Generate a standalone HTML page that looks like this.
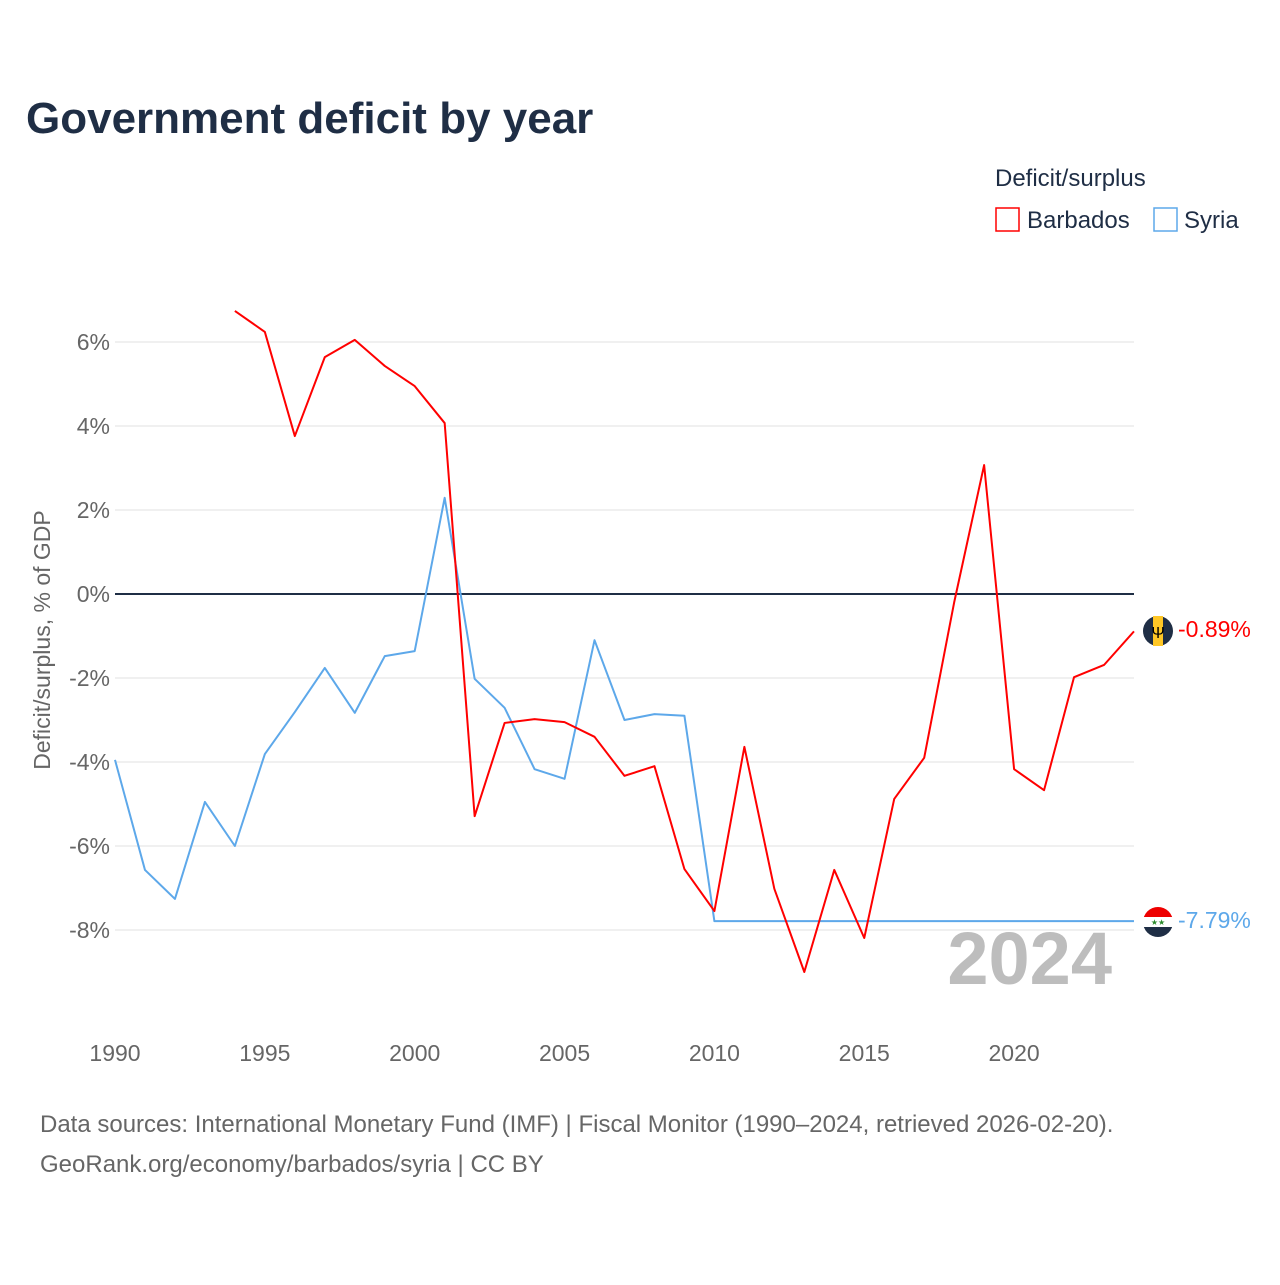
<!DOCTYPE html>
<html><head><meta charset="utf-8"><style>
body{margin:0;background:#fff;font-family:"Liberation Sans",sans-serif;}
svg text{font-family:"Liberation Sans",sans-serif;}
</style></head><body>
<svg id="chart" width="1280" height="1280" viewBox="0 0 1280 1280" xmlns="http://www.w3.org/2000/svg">
<rect width="1280" height="1280" fill="#fff"/>
<text x="26" y="133" font-size="44" font-weight="bold" fill="#1f2e45">Government deficit by year</text>
<text x="995" y="186" font-size="24" fill="#1f2e45">Deficit/surplus</text>
<g><rect x="996" y="208" width="23" height="23" fill="none" stroke="#ff0000" stroke-width="1.5"/><text x="1027" y="228" font-size="24" fill="#1f2e45">Barbados</text></g>
<g><rect x="1154" y="208" width="23" height="23" fill="none" stroke="#5da8ea" stroke-width="1.5"/><text x="1184" y="228" font-size="24" fill="#1f2e45">Syria</text></g>
<text transform="translate(50,640) rotate(-90)" text-anchor="middle" font-size="23" fill="#666">Deficit/surplus, % of GDP</text>
<g id="grid"></g><g id="yt"></g><g id="xt"></g>
<text x="1112" y="984" text-anchor="end" font-size="74" font-weight="bold" fill="#bdbdbd">2024</text>
<g id="lines"></g>
<g><circle cx="1158" cy="631" r="15" fill="#1f2e45"/><rect x="1153" y="616" width="10" height="30" fill="#ffc726"/><text x="1158" y="638" text-anchor="middle" font-size="16" fill="#000">Ψ</text></g>
<g><clipPath id="sc"><circle cx="1158" cy="922" r="15"/></clipPath><g clip-path="url(#sc)"><rect x="1143" y="907" width="30" height="10" fill="#e00"/><rect x="1143" y="917" width="30" height="10" fill="#fff"/><rect x="1143" y="927" width="30" height="10" fill="#1f2e45"/></g><text x="1158" y="925" text-anchor="middle" font-size="8" fill="#2a8a2a">★★</text></g>
<text x="1178" y="637" font-size="23" fill="#ff0000">-0.89%</text>
<text x="1178" y="928" font-size="23" fill="#5da8ea">-7.79%</text>
<text x="40" y="1132" font-size="24" fill="#666">Data sources: International Monetary Fund (IMF) | Fiscal Monitor (1990–2024, retrieved 2026-02-20).</text>
<text x="40" y="1172" font-size="24" fill="#666">GeoRank.org/economy/barbados/syria | CC BY</text>
</svg>
<script>
const yTicks=[6,4,2,0,-2,-4,-6,-8];
const xTicks=[1990,1995,2000,2005,2010,2015,2020];
const barbadosYears=[1994,1995,1996,1997,1998,1999,2000,2001,2002,2003,2004,2005,2006,2007,2008,2009,2010,2011,2012,2013,2014,2015,2016,2017,2018,2019,2020,2021,2022,2023,2024];
const barbadosValues=[6.74,6.24,3.76,5.64,6.05,5.43,4.95,4.07,-5.29,-3.07,-2.98,-3.05,-3.40,-4.33,-4.10,-6.55,-7.55,-3.64,-7.02,-9.0,-6.57,-8.19,-4.88,-3.90,-0.2,3.07,-4.17,-4.67,-1.98,-1.69,-0.89];
const syriaYears=[1990,1991,1992,1993,1994,1995,1996,1997,1998,1999,2000,2001,2002,2003,2004,2005,2006,2007,2008,2009,2010,2011,2012,2013,2014,2015,2016,2017,2018,2019,2020,2021,2022,2023,2024];
const syriaValues=[-3.95,-6.57,-7.26,-4.95,-6.0,-3.81,-2.81,-1.76,-2.83,-1.48,-1.36,2.29,-2.02,-2.71,-4.17,-4.40,-1.10,-3.0,-2.86,-2.9,-7.79,-7.79,-7.79,-7.79,-7.79,-7.79,-7.79,-7.79,-7.79,-7.79,-7.79,-7.79,-7.79,-7.79,-7.79];
const NS="http://www.w3.org/2000/svg";
const xS=y=>115+(y-1990)*29.97;
const yS=v=>594-v*42;
function mk(t,a,p){const e=document.createElementNS(NS,t);for(const k in a)e.setAttribute(k,a[k]);p.appendChild(e);return e;}
const grid=document.getElementById('grid'),yt=document.getElementById('yt'),xt=document.getElementById('xt'),lines=document.getElementById('lines');
yTicks.forEach(v=>{
 const l=mk('line',{x1:115,x2:1134,y1:yS(v),y2:yS(v),stroke:v===0?'#1f2e45':'#e6e6e6','stroke-width':v===0?2:1.3},grid);
 
 
 const t=mk('text',{x:110,y:yS(v)+8,'text-anchor':'end','font-size':23,fill:'#666'},yt);
 t.textContent=v+'%';
 
 
});
xTicks.forEach(y=>{
 const t=mk('text',{x:xS(y),y:1061,'text-anchor':'middle','font-size':23,fill:'#666'},xt);
 t.textContent=y;
 
 
});
function line(ys,vs,c,n){
 const p=mk('polyline',{points:ys.map((y,i)=>xS(y)+','+yS(vs[i])).join(' '),fill:'none',stroke:c,'stroke-width':2,'stroke-linejoin':'round'},lines);
 
 
}
line(syriaYears,syriaValues,'#5da8ea','syria-line');
line(barbadosYears,barbadosValues,'#ff0000','barbados-line');
</script>
</body></html>
